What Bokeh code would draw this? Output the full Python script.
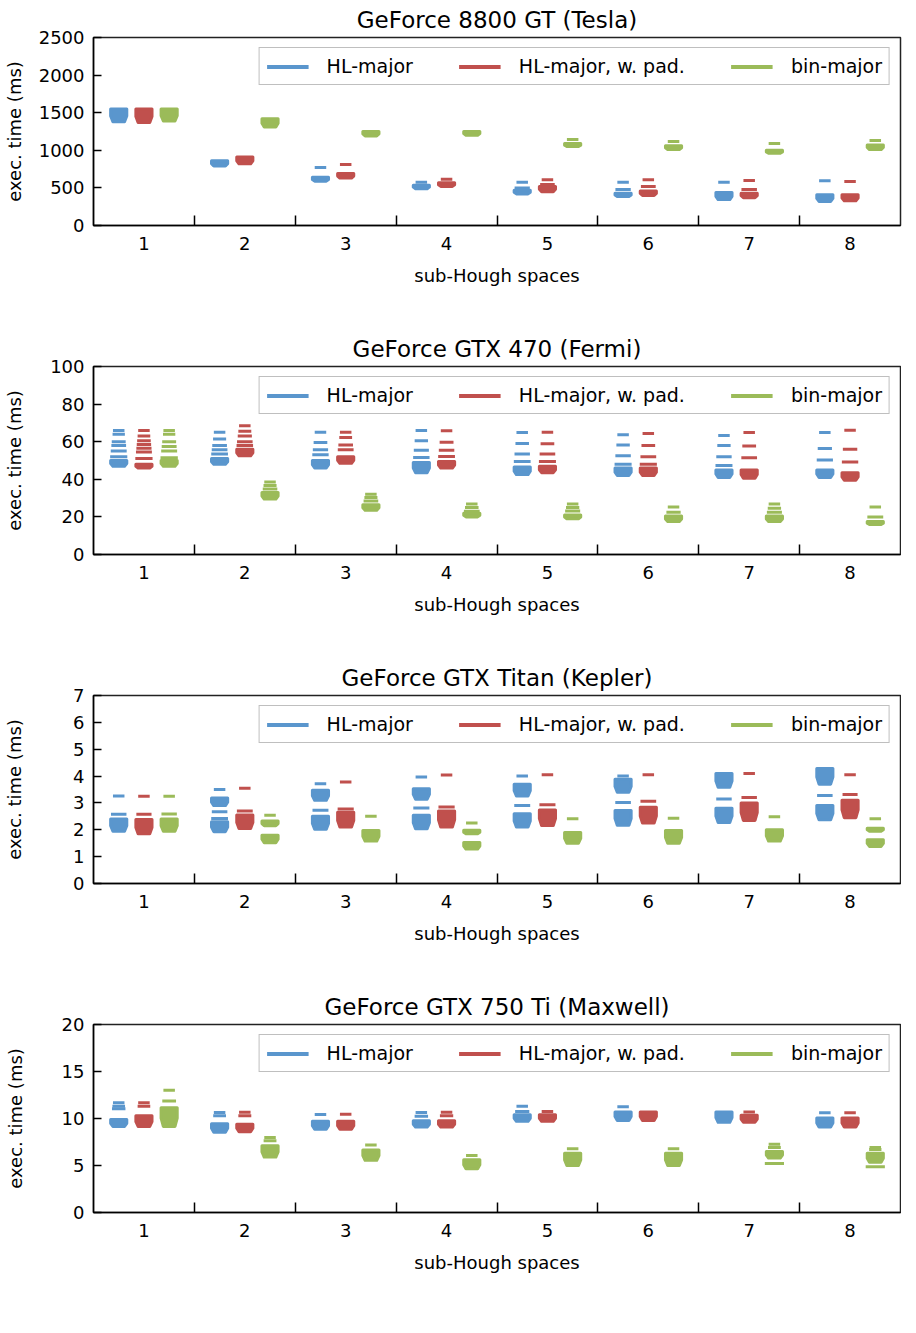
from bokeh.plotting import figure
from bokeh.layouts import column
from bokeh.models import FixedTicker, Legend, LegendItem, Range1d, ColumnDataSource
from bokeh.embed import file_html
from bokeh.resources import INLINE

FONT = "DejaVu Sans"

categories = [1, 2, 3, 4, 5, 6, 7, 8]
series_names = ["HL-major", "HL-major, w. pad.", "bin-major"]
series_colors = ["#5a96cd", "#c0504d", "#9bbb59"]

# ---------------- GeForce 8800 GT (Tesla) ----------------
tesla_title = "GeForce 8800 GT (Tesla)"
tesla_yticks = [0, 500, 1000, 1500, 2000, 2500]
tesla_hl_blocks = [[(1380, 1550)], [(790, 860)], [(590, 640)], [(490, 535)],
                   [(420, 470)], [(385, 430)], [(345, 440)], [(320, 410)]]
tesla_hl_dashes = [[], [], [770], [575], [575, 500], [575, 480], [575], [595]]
tesla_pad_blocks = [[(1370, 1550)], [(820, 910)], [(630, 690)], [(520, 570)],
                    [(450, 520)], [(400, 460)], [(370, 430)], [(330, 410)]]
tesla_pad_dashes = [[], [], [810], [615], [610, 545], [610, 520], [600, 480], [585]]
tesla_bin_blocks = [[(1390, 1550)], [(1310, 1420)], [(1190, 1250)], [(1200, 1250)],
                    [(1050, 1090)], [(1010, 1060)], [(960, 1000)], [(1010, 1070)]]
tesla_bin_dashes = [[], [], [], [], [1145], [1117], [1090], [1130]]

# ---------------- GeForce GTX 470 (Fermi) ----------------
fermi_title = "GeForce GTX 470 (Fermi)"
fermi_yticks = [0, 20, 40, 60, 80, 100]
fermi_hl_blocks = [[(47, 50)], [(48, 51)], [(46, 50)], [(43.5, 49)],
                   [(42.5, 46.5)], [(42, 46)], [(41, 45)], [(41, 45)]]
fermi_hl_dashes = [[66, 64, 60, 58, 55, 52], [65, 61.5, 58, 55.7, 53.4],
                   [65, 59.6, 55.7, 53], [66, 60.5, 55.5, 51.6],
                   [64.9, 59, 53.5, 49.5], [63.7, 58.3, 52.5, 48],
                   [63.3, 58, 52, 47.4], [64.9, 56.4, 50.2]]
fermi_pad_blocks = [[(46, 48)], [(52.5, 56)], [(48.5, 52)], [(46, 49.5)],
                    [(43.5, 47)], [(42, 46)], [(40.5, 45)], [(39.5, 43.5)]]
fermi_pad_dashes = [[66, 63, 60.5, 58.5, 56.5, 54.5, 51], [68.5, 65.5, 63, 60, 58],
                    [65, 62.2, 58.3, 55.7], [65.8, 59.7, 55.5, 52.1],
                    [65, 58.9, 53.5, 49.5], [64.4, 58, 52, 48],
                    [64.9, 57.7, 51.5], [66.1, 56, 49.2]]
fermi_bin_blocks = [[(47, 50)], [(29.5, 33)], [(23.5, 26.5)], [(20, 22)],
                    [(19, 21)], [(17.5, 20.5)], [(17.5, 20.5)], [(16, 17.5)]]
fermi_bin_dashes = [[66, 64, 60, 57.5, 55, 51.5], [38.5, 36.7, 34.9],
                    [32, 30.3, 28.5], [26.8, 25, 23], [26.8, 25, 23.2],
                    [25.3, 22.5], [26.8, 24.6, 22.5], [25.3, 20]]

# ---------------- GeForce GTX Titan (Kepler) ----------------
kepler_title = "GeForce GTX Titan (Kepler)"
kepler_yticks = [0, 1, 2, 3, 4, 5, 6, 7]
kepler_hl_blocks = [[(1.95, 2.4)], [(2.9, 3.18), (1.93, 2.3)], [(3.1, 3.47), (2.02, 2.5)],
                    [(3.14, 3.53), (2.04, 2.54)], [(3.26, 3.7), (2.1, 2.6)],
                    [(3.4, 3.88), (2.17, 2.72)], [(3.58, 4.1), (2.27, 2.8)],
                    [(3.7, 4.28), (2.37, 2.9)]]
kepler_hl_dashes = [[3.26, 2.58], [3.5, 2.67, 2.42], [3.71, 2.73], [3.97, 2.81],
                    [4.0, 2.9], [4.0, 3.02], [3.15], [3.28]]
kepler_pad_blocks = [[(1.85, 2.38)], [(2.05, 2.55)], [(2.1, 2.65)], [(2.1, 2.7)],
                     [(2.16, 2.74)], [(2.25, 2.84)], [(2.35, 3.0)], [(2.45, 3.1)]]
kepler_pad_dashes = [[3.25, 2.58], [3.55, 2.7], [3.78, 2.77], [4.04, 2.85],
                     [4.05, 2.93], [4.05, 3.06], [4.1, 3.2], [4.05, 3.31]]
kepler_bin_blocks = [[(1.95, 2.4)], [(2.15, 2.33), (1.52, 1.8)], [(1.58, 1.97)],
                     [(1.85, 1.98), (1.28, 1.53)], [(1.5, 1.9)], [(1.5, 1.97)],
                     [(1.58, 2.0)], [(1.95, 2.06), (1.38, 1.63)]]
kepler_bin_dashes = [[3.25, 2.59], [2.54], [2.5], [2.25], [2.41], [2.43], [2.49], [2.41]]

# ---------------- GeForce GTX 750 Ti (Maxwell) ----------------
maxwell_title = "GeForce GTX 750 Ti (Maxwell)"
maxwell_yticks = [0, 5, 10, 15, 20]
maxwell_hl_blocks = [[(9.15, 9.9)], [(8.55, 9.45)], [(8.85, 9.7)], [(9.1, 9.75)],
                     [(9.7, 10.4)], [(9.8, 10.7)], [(9.6, 10.7)], [(9.1, 10.05)]]
maxwell_hl_dashes = [[11.67, 11.3, 11.03], [10.64, 10.28], [10.43], [10.64, 10.25],
                     [11.3, 10.74], [11.25], [], [10.6]]
maxwell_pad_blocks = [[(9.15, 10.3)], [(8.6, 9.4)], [(8.85, 9.7)], [(9.1, 9.75)],
                      [(9.7, 10.4)], [(9.8, 10.7)], [(9.6, 10.35)], [(9.1, 10.05)]]
maxwell_pad_dashes = [[11.67, 11.3], [10.67, 10.28], [10.46], [10.67, 10.3],
                      [10.74], [], [10.7], [10.6]]
maxwell_bin_blocks = [[(9.15, 11.15)], [(5.9, 7.1)], [(5.55, 6.65)], [(4.65, 5.6)],
                      [(5.0, 6.3)], [(5.0, 6.3)], [(5.8, 6.5)], [(5.35, 6.3)]]
maxwell_bin_dashes = [[13.0, 11.87], [7.98, 7.62], [7.17], [6.06], [6.77], [6.77],
                      [7.27, 6.92, 5.21], [6.92, 6.7, 4.86]]

panels = [
    (tesla_title, tesla_yticks, [tesla_hl_blocks, tesla_pad_blocks, tesla_bin_blocks],
     [tesla_hl_dashes, tesla_pad_dashes, tesla_bin_dashes]),
    (fermi_title, fermi_yticks, [fermi_hl_blocks, fermi_pad_blocks, fermi_bin_blocks],
     [fermi_hl_dashes, fermi_pad_dashes, fermi_bin_dashes]),
    (kepler_title, kepler_yticks, [kepler_hl_blocks, kepler_pad_blocks, kepler_bin_blocks],
     [kepler_hl_dashes, kepler_pad_dashes, kepler_bin_dashes]),
    (maxwell_title, maxwell_yticks, [maxwell_hl_blocks, maxwell_pad_blocks, maxwell_bin_blocks],
     [maxwell_hl_dashes, maxwell_pad_dashes, maxwell_bin_dashes]),
]

OFFSETS = [-0.25, 0.0, 0.25]
HALF_TOP = 0.08
HALF_BOT = 0.058
DASH_W = 0.19
NAN = float("nan")


def make_panel(title, yticks, blocks_by_series, dashes_by_series):
    p = figure(frame_width=807, frame_height=188,
               x_range=Range1d(0.5, 8.5), y_range=Range1d(yticks[0], yticks[-1]),
               output_backend="svg", toolbar_location=None, title=title,
               min_border_left=91, min_border_right=2, min_border_top=37,
               min_border_bottom=104)
    p.title.align = "center"
    p.title.text_font = FONT
    p.title.text_font_size = "23px"
    p.title.text_font_style = "normal"
    p.title.text_color = "black"
    p.title.standoff = 9
    p.xgrid.visible = False
    p.ygrid.visible = False
    p.outline_line_color = "#222222"
    p.outline_line_width = 1.5

    for s, color in enumerate(series_colors):
        blocks = blocks_by_series[s]
        dashes = dashes_by_series[s]
        xs, ys = [], []
        dx, dy, dw = [], [], []
        for ci, c in enumerate(categories):
            xc = c + OFFSETS[s]
            vals = [v for b in blocks[ci] for v in b] + list(dashes[ci])
            gmin, gmax = min(vals), max(vals)
            for lo, hi in blocks[ci]:
                mid = lo + 0.45 * (hi - lo)
                xs.append([xc - HALF_TOP, xc + HALF_TOP, xc + HALF_TOP,
                           xc + HALF_BOT, xc - HALF_BOT, xc - HALF_TOP])
                ys.append([hi, hi, mid, lo, lo, mid])
            for v in dashes[ci]:
                t = (v - gmin) / (gmax - gmin) if gmax > gmin else 0
                dx.append(xc)
                dy.append(v)
                dw.append(DASH_W * (1 - 0.4 * t))
        p.patches(xs, ys, fill_color=color, line_color=color, line_width=3,
                  line_join="round")
        src = ColumnDataSource(dict(x=dx, y=dy, w=dw))
        p.rect(x="x", y="y", width="w", height=3, height_units="screen",
               source=src, fill_color=color, line_color=None)

    # legend (line swatches)
    items = []
    for name, color in zip(series_names, series_colors):
        r = p.line(x=[NAN], y=[NAN], line_color=color, line_width=4)
        items.append(LegendItem(label=name, renderers=[r]))
    legend = Legend(items=items, orientation="horizontal", location="top_right",
                    label_text_font=FONT, label_text_font_size="19px",
                    label_text_color="black",
                    glyph_width=42, glyph_height=19, label_height=19,
                    label_standoff=18, spacing=46, padding=7, margin=10,
                    border_line_color="#808080", border_line_width=1.5,
                    background_fill_alpha=1.0)
    p.add_layout(legend)

    # axes
    xa = p.xaxis[0]
    xa.ticker = FixedTicker(ticks=categories,
                            minor_ticks=[c + 0.5 for c in categories[:-1]])
    xa.major_tick_line_color = None
    xa.minor_tick_in = 10
    xa.minor_tick_out = 0
    xa.minor_tick_line_color = "black"
    xa.minor_tick_line_width = 1.5
    xa.axis_line_width = 1.5
    xa.axis_line_color = "black"
    xa.major_label_text_font = FONT
    xa.major_label_text_font_size = "18px"
    xa.major_label_text_color = "black"
    xa.major_label_standoff = 5
    xa.axis_label = "sub-Hough spaces"
    xa.axis_label_text_font = FONT
    xa.axis_label_text_font_size = "18px"
    xa.axis_label_text_font_style = "normal"
    xa.axis_label_text_color = "black"
    xa.axis_label_standoff = 12

    ya = p.yaxis[0]
    ya.ticker = FixedTicker(ticks=yticks, minor_ticks=[])
    ya.major_tick_in = 8
    ya.major_tick_out = 0
    ya.major_tick_line_width = 1.5
    ya.major_tick_line_color = "black"
    ya.minor_tick_line_color = None
    ya.axis_line_width = 1.5
    ya.axis_line_color = "black"
    ya.major_label_text_font = FONT
    ya.major_label_text_font_size = "18px"
    ya.major_label_text_color = "black"
    ya.major_label_standoff = 9
    ya.axis_label = "exec. time (ms)"
    ya.axis_label_text_font = FONT
    ya.axis_label_text_font_size = "18px"
    ya.axis_label_text_font_style = "normal"
    ya.axis_label_text_color = "black"
    ndig = len(str(yticks[-1]))
    ya.axis_label_standoff = int(11 + 11.45 * (4 - ndig))
    return p


figs = [make_panel(*pn) for pn in panels]
layout = column(*figs, spacing=0)

open("out.html", "w").write(file_html(layout, INLINE))
